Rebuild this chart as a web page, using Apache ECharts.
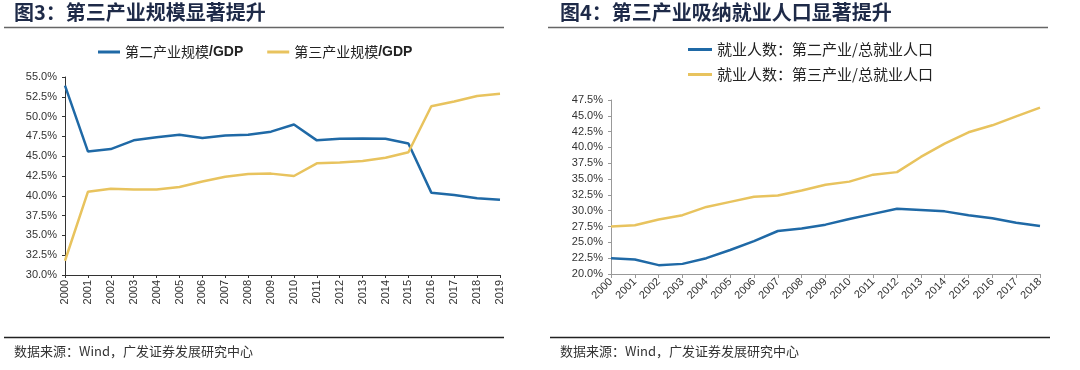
<!DOCTYPE html>
<html><head><meta charset="utf-8">
<script src="https://cdn.jsdelivr.net/npm/echarts@6/dist/echarts.min.js"></script>
<style>html,body{margin:0;padding:0;background:#fff}#c{width:1080px;height:370px}</style>
</head><body><div id="c"></div>
<script>
// ---- Left chart data (图3) ----
const yearsL = ['2000','2001','2002','2003','2004','2005','2006','2007','2008','2009','2010','2011','2012','2013','2014','2015','2016','2017','2018','2019'];
const secondGDP = [53.9,45.6,45.9,47.0,47.4,47.7,47.3,47.6,47.7,48.1,49.0,47.0,47.2,47.25,47.2,46.6,40.4,40.1,39.7,39.5];
const thirdGDP  = [31.8,40.5,40.9,40.8,40.8,41.1,41.8,42.4,42.75,42.8,42.5,44.1,44.2,44.4,44.8,45.5,51.3,51.9,52.6,52.9];
// ---- Right chart data (图4) ----
const yearsR = ['2000','2001','2002','2003','2004','2005','2006','2007','2008','2009','2010','2011','2012','2013','2014','2015','2016','2017','2018'];
const secondEmp = [22.5,22.3,21.4,21.6,22.5,23.8,25.2,26.8,27.2,27.8,28.7,29.5,30.3,30.1,29.9,29.3,28.8,28.1,27.6];
const thirdEmp  = [27.5,27.7,28.6,29.3,30.6,31.4,32.2,32.4,33.2,34.1,34.6,35.7,36.1,38.5,40.6,42.4,43.5,44.9,46.3];
const namesL = ['第二产业规模/GDP','第三产业规模/GDP'];
const namesR = ['就业人数：第二产业/总就业人口','就业人数：第三产业/总就业人口'];
const titles = ['图3：第三产业规模显著提升','图4：第三产业吸纳就业人口显著提升'];
const sourceText = '数据来源：Wind，广发证券发展研究中心';

const BLUE = '#1f69a6', GOLD = '#e8c35e';
const CJK = '"Noto Sans CJK SC", sans-serif';
const LAT = '"Liberation Sans", Arial, sans-serif';
const chart = echarts.init(document.getElementById('c'));
const pct = v => v.toFixed(1) + '%';
function yAx(idx, min, max, lineColor){
  return {type:'value', gridIndex:idx, min, max, interval:2.5,
    axisLine:{show:true, lineStyle:{color:lineColor, width:1}},
    axisTick:{show:true, length:3, lineStyle:{color:lineColor}},
    splitLine:{show:false},
    axisLabel:{formatter:pct, color:'#333', fontSize:11, fontFamily:LAT, margin:8}};
}
chart.setOption({
  animation:false,
  grid:[{left:65, right:580, top:77, bottom:95},{left:611, right:40, top:100, bottom:96}],
  legend:[
    {data:namesL, left:93, top:40, itemWidth:22, itemHeight:3, itemGap:24, icon:'rect',
     formatter: n => '{a|' + n.replace('/GDP','') + '}{b|/GDP}',
     textStyle:{rich:{a:{fontFamily:CJK, fontSize:14, color:'#222'}, b:{fontFamily:LAT, fontSize:14, fontWeight:'bold', color:'#222'}}}},
    {data:namesR, left:683, top:37, orient:'vertical', itemWidth:24, itemHeight:3, itemGap:10, icon:'rect',
     textStyle:{fontFamily:CJK, fontSize:15, color:'#222'}}
  ],
  xAxis:[
    {type:'category', gridIndex:0, data:yearsL, boundaryGap:false,
     axisLine:{lineStyle:{color:'#333'}}, axisTick:{length:3, lineStyle:{color:'#333'}},
     axisLabel:{rotate:90, color:'#333', fontSize:11, fontFamily:LAT, margin:5, interval:0}},
    {type:'category', gridIndex:1, data:yearsR, boundaryGap:false,
     axisLine:{lineStyle:{color:'#999'}}, axisTick:{length:4, lineStyle:{color:'#999'}},
     axisLabel:{rotate:45, color:'#333', fontSize:11, fontFamily:LAT, margin:6, interval:0}}
  ],
  yAxis:[yAx(0,30,55,'#333'), yAx(1,20,47.5,'#999')],
  series:[
    {name:namesL[0], type:'line', xAxisIndex:0, yAxisIndex:0, data:secondGDP, showSymbol:false, lineStyle:{color:BLUE, width:2.5}, itemStyle:{color:BLUE}},
    {name:namesL[1], type:'line', xAxisIndex:0, yAxisIndex:0, data:thirdGDP, showSymbol:false, lineStyle:{color:GOLD, width:2.5}, itemStyle:{color:GOLD}},
    {name:namesR[0], type:'line', xAxisIndex:1, yAxisIndex:1, data:secondEmp, showSymbol:false, lineStyle:{color:BLUE, width:2.5}, itemStyle:{color:BLUE}},
    {name:namesR[1], type:'line', xAxisIndex:1, yAxisIndex:1, data:thirdEmp, showSymbol:false, lineStyle:{color:GOLD, width:2.5}, itemStyle:{color:GOLD}}
  ],
  graphic:[
    {type:'text', left:14, top:2, style:{text:titles[0], font:'bold 20px '+CJK, fill:'#1e2a48'}},
    {type:'text', left:560, top:2, style:{text:titles[1], font:'bold 20px '+CJK, fill:'#1e2a48'}},
    {type:'line', shape:{x1:4,y1:27.5,x2:504,y2:27.5}, style:{stroke:'#666', lineWidth:1.5}},
    {type:'line', shape:{x1:548,y1:27.5,x2:1048,y2:27.5}, style:{stroke:'#666', lineWidth:1.5}},
    {type:'line', shape:{x1:4,y1:337.5,x2:504,y2:337.5}, style:{stroke:'#222', lineWidth:1.5}},
    {type:'line', shape:{x1:550,y1:337.5,x2:1050,y2:337.5}, style:{stroke:'#222', lineWidth:1.5}},
    {type:'text', left:14, top:345, style:{text:sourceText, font:'13px '+CJK, fill:'#333'}},
    {type:'text', left:560, top:345, style:{text:sourceText, font:'13px '+CJK, fill:'#333'}}
  ]
});
</script></body></html>
